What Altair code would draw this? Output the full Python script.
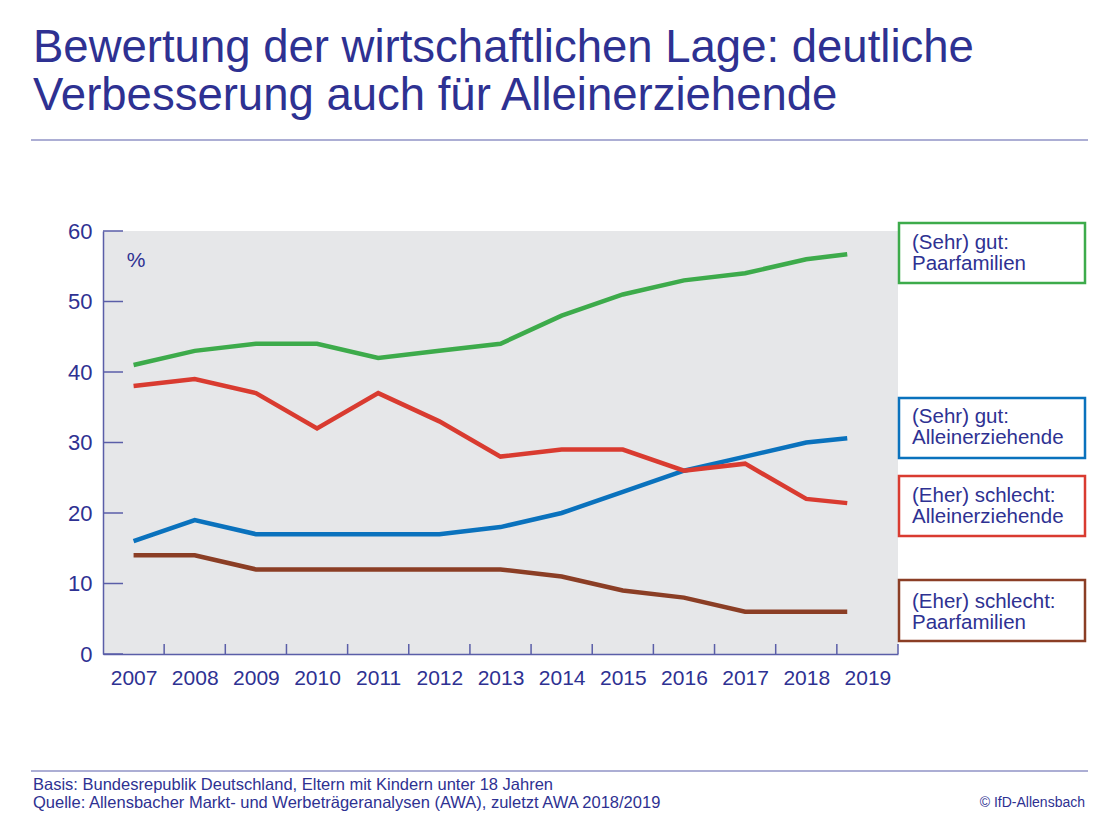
import altair as alt
import pandas as pd

# ---- data ----
years = [2007, 2008, 2009, 2010, 2011, 2012, 2013, 2014, 2015, 2016, 2017, 2018, 2018.67]  # last point = AWA 2018/2019
gut_paar = [41, 43, 44, 44, 42, 43, 44, 48, 51, 53, 54, 56, 56.7]
gut_allein = [16, 19, 17, 17, 17, 17, 18, 20, 23, 26, 28, 30, 30.6]
schlecht_allein = [38, 39, 37, 32, 37, 33, 28, 29, 29, 26, 27, 22, 21.4]
schlecht_paar = [14, 14, 12, 12, 12, 12, 12, 11, 9, 8, 6, 6, 6]

series_names = ["(Sehr) gut: Paarfamilien", "(Sehr) gut: Alleinerziehende",
                "(Eher) schlecht: Alleinerziehende", "(Eher) schlecht: Paarfamilien"]
series_colors = ["#3dab4b", "#0a72bd", "#d93b30", "#8b3e25"]
year_labels = list(range(2007, 2020))
y_ticks = [0, 10, 20, 30, 40, 50, 60]
x_boundaries = [y + 0.5 for y in range(2007, 2020)]

title_lines = ["Bewertung der wirtschaftlichen Lage: deutliche",
               "Verbesserung auch für Alleinerziehende"]
footer_lines = ["Basis: Bundesrepublik Deutschland, Eltern mit Kindern unter 18 Jahren",
                "Quelle: Allensbacher Markt- und Werbeträgeranalysen (AWA), zuletzt AWA 2018/2019"]
copyright_text = "© IfD-Allensbach"

rows = []
for name, vals in zip(series_names, [gut_paar, gut_allein, schlecht_allein, schlecht_paar]):
    for yr, v in zip(years, vals):
        rows.append({"Jahr": yr, "Wert": v, "Reihe": name})
df = pd.DataFrame(rows)

TXT = "#2e3192"
AX = "#5a5ea8"
FONT = "Liberation Sans"
W, H = 795, 423

xs = alt.Scale(domain=[2006.5, 2019.5], nice=False, zero=False)
ys = alt.Scale(domain=[0, 60], nice=False)

lines = alt.Chart(df).mark_line(strokeWidth=4.5, strokeCap="butt", strokeJoin="miter").encode(
    x=alt.X("Jahr:Q", scale=xs,
            axis=alt.Axis(values=year_labels, format="d", title=None, ticks=False, grid=False,
                          domainColor=AX, domainWidth=1.5, labelColor=TXT, labelFont=FONT,
                          labelFontSize=21, labelPadding=13, labelFlush=False)),
    y=alt.Y("Wert:Q", scale=ys,
            axis=alt.Axis(values=y_ticks, title=None, ticks=False, grid=False,
                          domainColor=AX, domainWidth=1.5, labelColor=TXT, labelFont=FONT,
                          labelFontSize=22, labelPadding=11, labelBaseline="middle")),
    color=alt.Color("Reihe:N", scale=alt.Scale(domain=series_names, range=series_colors), legend=None),
    detail="Reihe:N",
)

ytick_df = pd.DataFrame({"v": y_ticks})
yticks = alt.Chart(ytick_df).mark_rule(color=AX, strokeWidth=1.5).encode(
    y=alt.Y("v:Q", scale=ys), x=alt.value(0), x2=alt.value(20))

xtick_df = pd.DataFrame({"b": x_boundaries})
xticks = alt.Chart(xtick_df).mark_rule(color=AX, strokeWidth=1.5).encode(
    x=alt.X("b:Q", scale=xs), y=alt.value(H), y2=alt.value(H - 10))

pct = alt.Chart(pd.DataFrame({"t": ["%"]})).mark_text(
    font=FONT, fontSize=21, color=TXT, align="center", baseline="alphabetic").encode(
    text="t:N", x=alt.value(33), y=alt.value(36))

layers = [lines, yticks, xticks, pct]

# title
for t, yb in zip(title_lines, [-169, -121]):
    layers.append(alt.Chart(pd.DataFrame({"t": [t]})).mark_text(
        font=FONT, fontSize=45.5, color=TXT, align="left", baseline="alphabetic").encode(
        text="t:N", x=alt.value(-70), y=alt.value(yb)))

# separator lines
for yl in [-91, 540]:
    layers.append(alt.Chart(pd.DataFrame({"a": [0]})).mark_rule(color="#9093c6", strokeWidth=1.5).encode(
        x=alt.value(-72), x2=alt.value(985), y=alt.value(yl)))

# footer
for t, yb in zip(footer_lines, [559, 577]):
    layers.append(alt.Chart(pd.DataFrame({"t": [t]})).mark_text(
        font=FONT, fontSize=16.5, color=TXT, align="left", baseline="alphabetic").encode(
        text="t:N", x=alt.value(-70), y=alt.value(yb)))
layers.append(alt.Chart(pd.DataFrame({"t": [copyright_text]})).mark_text(
    font=FONT, fontSize=14, color=TXT, align="right", baseline="alphabetic").encode(
    text="t:N", x=alt.value(982), y=alt.value(576)))

# legend boxes
box_layout = [(-8, 52, 18), (167, 227, 192), (245, 305, 271), (349, 410, 377)]
legend_texts = [["(Sehr) gut:", "Paarfamilien"], ["(Sehr) gut:", "Alleinerziehende"],
                ["(Eher) schlecht:", "Alleinerziehende"], ["(Eher) schlecht:", "Paarfamilien"]]
for (y0, y1, tb), col, txt in zip(box_layout, series_colors, legend_texts):
    layers.append(alt.Chart(pd.DataFrame({"a": [0]})).mark_rect(
        fill="white", stroke=col, strokeWidth=2.5).encode(
        x=alt.value(796), x2=alt.value(982), y=alt.value(y0), y2=alt.value(y1)))
    layers.append(alt.Chart(pd.DataFrame({"a": [0]})).mark_text(
        font=FONT, fontSize=20.5, color=TXT, align="left", baseline="alphabetic", lineHeight=21).encode(
        text=alt.value(txt), x=alt.value(809), y=alt.value(tb)))

chart = alt.layer(*layers).properties(
    width=W, height=H,
    background="white",
    autosize=alt.AutoSizeParams(type="none"),
    padding={"left": 95, "top": 223, "right": 190, "bottom": 159},
).configure_view(fill="#e6e7e9", strokeWidth=0)

chart.save("out.html", embed_options={"renderer": "svg", "actions": False})
